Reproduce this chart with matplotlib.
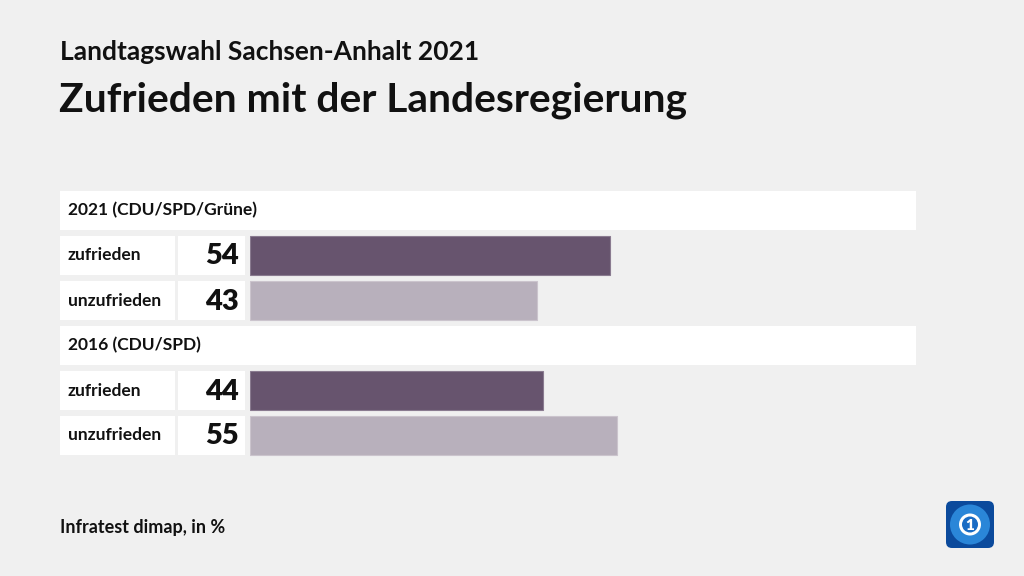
import matplotlib
matplotlib.use('Agg')
import matplotlib.pyplot as plt
from matplotlib.patches import Rectangle, FancyBboxPatch, Circle

plt.rcParams['font.family'] = ['Lato', 'DejaVu Sans']

# data
groups = ['2021 (CDU/SPD/Grüne)', '2016 (CDU/SPD)']
row_labels = ['zufrieden', 'unzufrieden']
values = [[54, 43], [44, 55]]
bar_colors = ['#67546e', '#b8b0bc']
edge_colors = ['#8a7b90', '#cbc4cd']

BG = '#f0f0f0'
W, H = 1024, 576

fig = plt.figure(figsize=(W / 100, H / 100), dpi=100, facecolor=BG)
bg = fig.add_axes([0, 0, 1, 1])
bg.set_xlim(0, W)
bg.set_ylim(H, 0)
bg.axis('off')

bg.text(60, 52, 'Landtagswahl Sachsen-Anhalt 2021', fontsize=19, fontweight='bold',
        va='center', ha='left', color='#111111')
bg.text(59, 100, 'Zufrieden mit der Landesregierung', fontsize=29.3, fontweight='bold',
        va='center', ha='left', color='#111111')
bg.text(60, 528, 'Infratest dimap, in %', fontsize=13, fontweight='bold',
        va='center', ha='left', color='#111111')

# layout in pixels
top = 191
head_h = 39
row_h = 39
gap = 6
bar_x0, bar_x1 = 250, 916.7

bar_ax = fig.add_axes([bar_x0 / W, 0, (bar_x1 - bar_x0) / W, 1])
bar_ax.set_xlim(0, 100)
bar_ax.set_ylim(H, 0)
bar_ax.axis('off')
bar_ax.patch.set_alpha(0)

y = top
for g, vals in zip(groups, values):
    bg.add_patch(Rectangle((60, y), 856, head_h, facecolor='white', edgecolor='none'))
    bg.text(68, y + head_h / 2, g, fontsize=12.5, fontweight='bold', va='center',
            ha='left', color='#111111')
    y += head_h + gap
    for i, (lab, v) in enumerate(zip(row_labels, vals)):
        bg.add_patch(Rectangle((60, y), 115, row_h, facecolor='white', edgecolor='none'))
        bg.add_patch(Rectangle((178, y), 67, row_h, facecolor='white', edgecolor='none'))
        bg.text(68, y + row_h / 2, lab, fontsize=12.5, fontweight='bold', va='center',
                ha='left', color='#111111')
        bg.text(239, y + row_h / 2 + 1, str(v), fontsize=21, fontweight='heavy',
                va='center', ha='right', color='#111111')
        bar_ax.barh(y + row_h / 2, v, height=row_h, left=0, color=bar_colors[i],
                    edgecolor=edge_colors[i], linewidth=0.8)
        y += row_h + gap

# logo
bg.add_patch(FancyBboxPatch((946, 501), 48, 47, boxstyle='round,pad=0,rounding_size=6',
                            facecolor='#0b4a9c', edgecolor='none'))
bg.add_patch(Circle((970, 524.5), 20, facecolor='#2a86d8', edgecolor='none'))
bg.add_patch(Circle((970, 524.5), 11, facecolor='white', edgecolor='none'))
bg.add_patch(Circle((970, 524.5), 8, facecolor='#1a6cc4', edgecolor='none'))
bg.text(970, 525, '1', fontsize=11, fontweight='heavy', color='white', ha='center', va='center')

fig.savefig('out.png', dpi=100, facecolor=BG)
